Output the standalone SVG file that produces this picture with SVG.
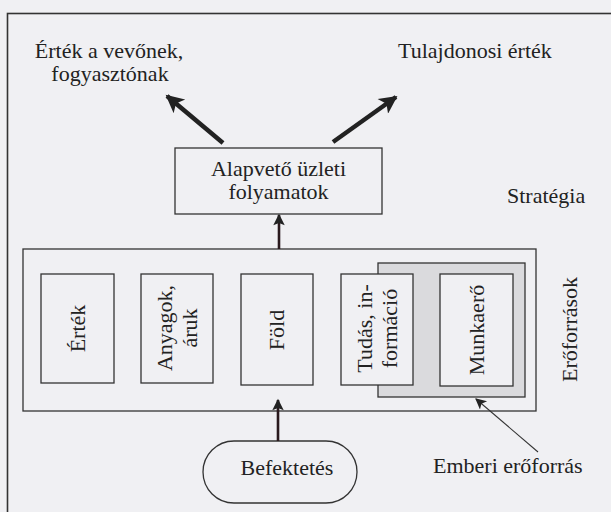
<svg xmlns="http://www.w3.org/2000/svg" width="611" height="512" viewBox="0 0 611 512">
<defs>
<style>
text{font-family:"Liberation Serif","Times New Roman",serif;font-size:22px;fill:#222;}
.box{fill:#f0f0f3;stroke:#333;stroke-width:1.3;}
.shade{fill:#dadadd;stroke:#333;stroke-width:1.3;}
.thick{stroke:#222;stroke-width:4.5;fill:none;}
.mid{stroke:#2a1a1e;stroke-width:2.6;fill:none;}
.thin{stroke:#333;stroke-width:1.1;fill:none;}
.c{text-anchor:middle;}
</style>
<marker id="big" viewBox="0 0 10 10" refX="9" refY="5" markerWidth="4.4" markerHeight="4" orient="auto" markerUnits="strokeWidth">
<path d="M0,0 L10,5 L0,10 L2.5,5 z" fill="#222"/>
</marker>
<marker id="med" viewBox="0 0 10 10" refX="9" refY="5" markerWidth="8" markerHeight="4.4" orient="auto" markerUnits="strokeWidth">
<path d="M0,0 L10,5 L0,10 L2,5 z" fill="#222"/>
</marker>
<marker id="sm" viewBox="0 0 10 10" refX="9" refY="5" markerWidth="16" markerHeight="10" orient="auto" markerUnits="strokeWidth">
<path d="M0,0 L10,5 L0,10 L2.5,5 z" fill="#222"/>
</marker>
</defs>
<rect x="0" y="0" width="611" height="512" fill="#f0f0f3"/>
<rect x="7.5" y="13.5" width="700" height="600" fill="none" stroke="#333" stroke-width="1.6"/>

<g id="value-customer"><text class="c" x="109" y="58">Érték a vevőnek,</text><text class="c" x="110" y="81">fogyasztónak</text></g>
<g id="owner-value"><text x="398" y="58">Tulajdonosi érték</text></g>
<g id="core-processes"><rect class="box" x="175" y="148" width="207" height="66"/><text class="c" x="278.5" y="176">Alapvető üzleti</text><text class="c" x="278.5" y="199">folyamatok</text></g>
<g id="strategy"><text x="507" y="203">Stratégia</text></g>

<g id="resources">
<rect class="box" x="23" y="249" width="513" height="162"/>
<text class="c" transform="translate(577,329.5) rotate(-90)">Erőforrások</text>
</g>
<g id="human-shade"><rect class="shade" x="378" y="263" width="147" height="134"/></g>
<g id="ertek"><rect class="box" x="41" y="274" width="73" height="109"/><text class="c" transform="translate(84.5,328.5) rotate(-90)">Érték</text></g>
<g id="anyagok"><rect class="box" x="141" y="274" width="72" height="109"/><text class="c" transform="translate(171.5,328) rotate(-90)">Anyagok,</text><text class="c" transform="translate(196.5,328) rotate(-90)">áruk</text></g>
<g id="fold"><rect class="box" x="241" y="274" width="72" height="111"/><text class="c" transform="translate(284,330) rotate(-90)">Föld</text></g>
<g id="tudas"><rect class="box" x="341" y="274" width="72" height="111"/><text class="c" transform="translate(371.5,328.5) rotate(-90)">Tudás, in-</text><text class="c" transform="translate(396.5,328.5) rotate(-90)">formáció</text></g>
<g id="munkaero"><rect class="box" x="440" y="274" width="73" height="112"/><text class="c" transform="translate(483.5,330) rotate(-90)">Munkaerő</text></g>

<g id="befektetes"><rect class="box" x="203" y="441" width="154" height="62" rx="31" ry="31"/><text class="c" x="287" y="475">Befektetés</text></g>
<g id="human-label"><text x="433" y="473">Emberi erőforrás</text></g>

<g id="connectors">
<line class="thick" x1="223" y1="143" x2="167" y2="96" marker-end="url(#big)"/>
<line class="thick" x1="333" y1="142" x2="396" y2="97" marker-end="url(#big)"/>
<line class="mid" x1="279" y1="249" x2="279" y2="215" marker-end="url(#med)"/>
<line class="mid" x1="278" y1="441" x2="278" y2="400" marker-end="url(#med)"/>
<line class="thin" x1="538" y1="452" x2="476" y2="399" marker-end="url(#sm)"/>
</g>
</svg>
